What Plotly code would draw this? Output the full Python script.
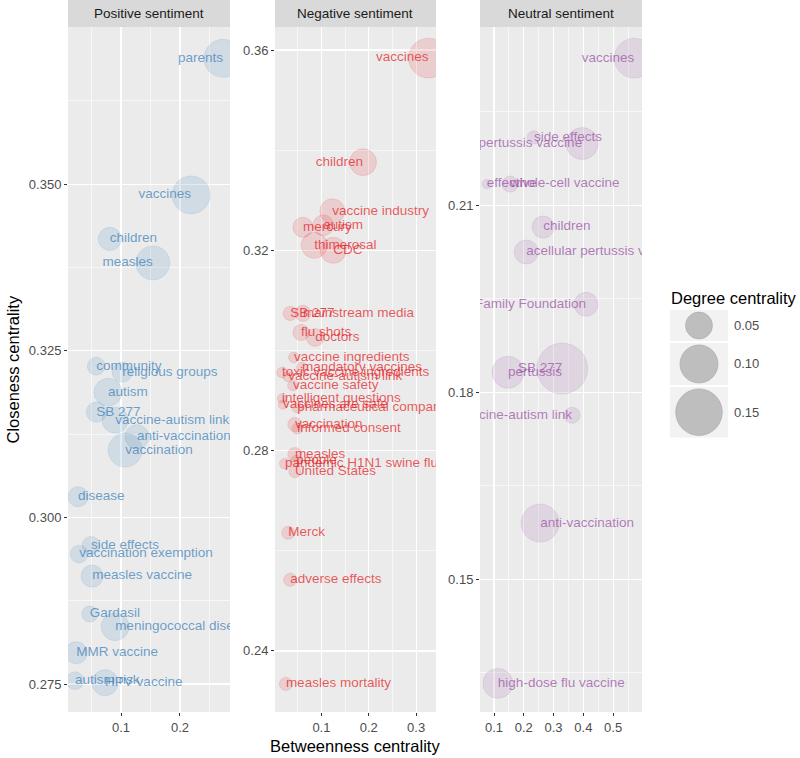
import numpy as np
import plotly.graph_objects as go

# ---------------- data ----------------
pos_labels = ["parents", "vaccines", "children", "measles", "community", "religious groups",
              "autism", "SB 277", "vaccine-autism link", "anti-vaccination", "vaccination",
              "disease", "side effects", "vaccination exemption", "measles vaccine", "Gardasil",
              "meningococcal disease", "MMR vaccine", "autism risk", "HPV vaccine"]
pos_betweenness = [0.273, 0.219, 0.081, 0.154, 0.058, 0.102, 0.078, 0.058, 0.090, 0.127, 0.107,
                   0.027, 0.049, 0.029, 0.051, 0.047, 0.090, 0.024, 0.022, 0.073]
pos_closeness = [0.3689, 0.3484, 0.3418, 0.3382, 0.3227, 0.3218, 0.3188, 0.3158, 0.3146, 0.3121,
                 0.3101, 0.3031, 0.2958, 0.2945, 0.2912, 0.2855, 0.2836, 0.2797, 0.2755, 0.2752]
pos_degree = [0.10, 0.10, 0.037, 0.08, 0.022, 0.028, 0.054, 0.028, 0.047, 0.040, 0.08,
              0.028, 0.022, 0.022, 0.034, 0.018, 0.054, 0.034, 0.022, 0.047]

neg_labels = ["vaccines", "children", "vaccine industry", "mercury", "autism", "thimerosal", "CDC",
              "SB 277", "mainstream media", "flu shots", "doctors", "vaccine ingredients",
              "mandatory vaccines", "toxic vaccine ingredients", "vaccine-autism link",
              "vaccine safety", "intelligent questions", "vaccines are safe",
              "pharmaceutical companies", "vaccination", "informed consent", "measles", "people",
              "pandemic H1N1 swine flu", "United States", "Merck", "adverse effects",
              "measles mortality"]
neg_betweenness = [0.326, 0.188, 0.123, 0.061, 0.104, 0.085, 0.125, 0.034, 0.061, 0.057, 0.087,
                   0.042, 0.059, 0.017, 0.030, 0.040, 0.017, 0.019, 0.049, 0.044, 0.049, 0.044,
                   0.047, 0.023, 0.044, 0.030, 0.034, 0.025]
neg_closeness = [0.3584, 0.3376, 0.3278, 0.3246, 0.3250, 0.3210, 0.3200, 0.3074, 0.3074, 0.3036,
                 0.3026, 0.2986, 0.2966, 0.2956, 0.2948, 0.2930, 0.2904, 0.2892, 0.2886, 0.2852,
                 0.2844, 0.2792, 0.2780, 0.2774, 0.2758, 0.2636, 0.2542, 0.2334]
neg_degree = [0.11, 0.05, 0.043, 0.028, 0.030, 0.047, 0.047, 0.014, 0.018, 0.018, 0.022, 0.008,
              0.008, 0.008, 0.008, 0.008, 0.006, 0.006, 0.008, 0.014, 0.008, 0.014, 0.008, 0.008,
              0.010, 0.012, 0.012, 0.012]

neu_labels = ["vaccines", "side effects", "pertussis vaccine", "effective", "whole-cell vaccine",
              "children", "acellular pertussis vaccine", "Kaiser Family Foundation", "pertussis",
              "SB 277", "vaccine-autism link", "anti-vaccination", "high-dose flu vaccine"]
neu_betweenness = [0.571, 0.234, 0.396, 0.076, 0.154, 0.265, 0.208, 0.409, 0.147, 0.329, 0.362,
                   0.255, 0.113]
neu_closeness = [0.2336, 0.2209, 0.2199, 0.2134, 0.2134, 0.2065, 0.2025, 0.1941, 0.1832, 0.1838,
                 0.1763, 0.1590, 0.1333]
neu_degree = [0.11, 0.012, 0.071, 0.006, 0.018, 0.034, 0.040, 0.040, 0.071, 0.18, 0.018, 0.10,
              0.062]

facet_titles = ["Positive sentiment", "Negative sentiment", "Neutral sentiment"]
legend_values = [0.05, 0.10, 0.15]
legend_labels = ["0.05", "0.10", "0.15"]

# ---------------- style ----------------
FONT = "Liberation Sans, Arial, Helvetica, sans-serif"
W, H = 800, 758
L, R, T, B = 68, 158, 27, 46
PW, PH = W - L - R, H - T - B
SIZE_K = 120.0  # diameter px = SIZE_K * sqrt(degree)


def size_px(v):
    return SIZE_K * np.sqrt(np.asarray(v, dtype=float))


def pxx(p):
    return (p - L) / PW


def pxy(p):
    return (H - B - p) / PH


panels = [
    dict(labels=pos_labels, x=pos_betweenness, y=pos_closeness, deg=pos_degree,
         rgb=(55, 126, 184), xr=[0.010, 0.285], yr=[0.2708, 0.3736], xd=0.1, yd=0.025,
         yf=".3f", px=(68, 230)),
    dict(labels=neg_labels, x=neg_betweenness, y=neg_closeness, deg=neg_degree,
         rgb=(228, 26, 28), xr=[0.002, 0.342], yr=[0.2278, 0.3646], xd=0.1, yd=0.04,
         yf=".2f", px=(275, 436)),
    dict(labels=neu_labels, x=neu_betweenness, y=neu_closeness, deg=neu_degree,
         rgb=(152, 78, 163), xr=[0.053, 0.597], yr=[0.1287, 0.2386], xd=0.1, yd=0.03,
         yf=".2f", px=(480, 642)),
]

fig = go.Figure()
layout = dict(
    width=W, height=H, margin=dict(l=L, r=R, t=T, b=B, autoexpand=False), showlegend=False,
    paper_bgcolor="white", plot_bgcolor="#EBEBEB",
    font=dict(family=FONT, color="#4D4D4D"),
)
shapes, annotations = [], []

for i, p in enumerate(panels):
    k = "" if i == 0 else str(i + 1)
    r, g, b = p["rgb"]
    xs = np.asarray(p["x"])
    center = 0.5 * (p["xr"][0] + p["xr"][1])
    tpos = ["middle left" if v > center else "middle right" for v in xs]
    fig.add_trace(go.Scatter(
        x=p["x"], y=p["y"], mode="markers", xaxis="x" + k, yaxis="y" + k,
        marker=dict(size=size_px(p["deg"]), sizemode="diameter",
                    color=f"rgba({r},{g},{b},0.2)",
                    line=dict(width=0.8, color=f"rgba({r},{g},{b},0.22)")),
        hoverinfo="skip", cliponaxis=True))
    fig.add_trace(go.Scatter(
        x=p["x"], y=p["y"], mode="text", text=p["labels"], textposition=tpos,
        xaxis="x" + k, yaxis="y" + k,
        textfont=dict(family=FONT, size=13.5, color=f"rgba({r},{g},{b},0.72)"),
        hoverinfo="skip", cliponaxis=True))

    dom = [pxx(p["px"][0]), pxx(p["px"][1])]
    axcommon = dict(showgrid=True, gridcolor="white", gridwidth=1.2, zeroline=False,
                    showline=False, ticks="outside", ticklen=3, tickwidth=1,
                    tickcolor="#333333", automargin=False,
                    tickfont=dict(size=13, color="#4D4D4D", family=FONT))
    layout["xaxis" + k] = dict(axcommon, domain=dom, range=p["xr"], anchor="y" + k,
                               dtick=p["xd"], tick0=0, tickformat=".1f",
                               minor=dict(dtick=p["xd"] / 2, tick0=0, showgrid=True,
                                          gridcolor="white", gridwidth=0.6, ticks=""))
    layout["yaxis" + k] = dict(axcommon, domain=[0, 1], range=p["yr"], anchor="x" + k,
                               dtick=p["yd"], tick0=0, tickformat=p["yf"],
                               minor=dict(dtick=p["yd"] / 2, tick0=0, showgrid=True,
                                          gridcolor="white", gridwidth=0.6, ticks=""))
    # strip
    shapes.append(dict(type="rect", xref="paper", yref="paper", x0=dom[0], x1=dom[1],
                       y0=1, y1=pxy(0), fillcolor="#D9D9D9", line=dict(width=0), layer="below"))
    annotations.append(dict(text=facet_titles[i], xref="paper", yref="paper",
                            x=0.5 * (dom[0] + dom[1]), y=pxy(13.5), showarrow=False,
                            xanchor="center", yanchor="middle",
                            font=dict(size=13.5, color="#1A1A1A", family=FONT)))

# axis titles
annotations.append(dict(text="Closeness centrality", xref="paper", yref="paper",
                        x=pxx(12), y=pxy(369.5), textangle=-90, showarrow=False,
                        xanchor="center", yanchor="middle",
                        font=dict(size=16.5, color="black", family=FONT)))
annotations.append(dict(text="Betweenness centrality", xref="paper", yref="paper",
                        x=pxx(355), y=pxy(746), showarrow=False,
                        xanchor="center", yanchor="middle",
                        font=dict(size=16.5, color="black", family=FONT)))

# size legend
annotations.append(dict(text="Degree centrality", xref="paper", yref="paper",
                        x=pxx(669), y=pxy(298), showarrow=False, xanchor="left",
                        yanchor="middle", font=dict(size=16.5, color="black", family=FONT)))
key_x0, key_w = 670, 58
key_y = 310
cx = key_x0 + key_w / 2
for v, lab in zip(legend_values, legend_labels):
    d = float(size_px(v))
    hgt = max(d + 4, 31)
    shapes.append(dict(type="rect", xref="paper", yref="paper", x0=pxx(key_x0),
                       x1=pxx(key_x0 + key_w), y0=pxy(key_y + hgt), y1=pxy(key_y),
                       fillcolor="#F2F2F2", line=dict(width=0)))
    cy = key_y + hgt / 2
    shapes.append(dict(type="circle", xref="paper", yref="paper",
                       x0=pxx(cx - d / 2), x1=pxx(cx + d / 2),
                       y0=pxy(cy + d / 2), y1=pxy(cy - d / 2),
                       fillcolor="#BEBEBE", line=dict(width=0.8, color="#AFAFAF")))
    annotations.append(dict(text=lab, xref="paper", yref="paper", x=pxx(key_x0 + key_w + 4),
                            y=pxy(cy), showarrow=False, xanchor="left", yanchor="middle",
                            font=dict(size=13, color="#4D4D4D", family=FONT)))
    key_y += hgt + 2

layout["shapes"] = shapes
layout["annotations"] = annotations
fig.update_layout(**layout)
fig.write_html("out.html",
               config={"displayModeBar": False, "staticPlot": True},
               post_script="document.body.style.margin='0px';"
                           "document.body.style.overflow='hidden';")
